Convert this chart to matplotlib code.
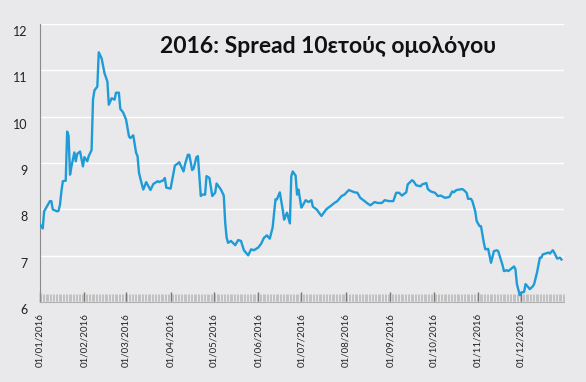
import matplotlib
matplotlib.use('Agg')
import matplotlib.pyplot as plt
import matplotlib.dates as mdates
from matplotlib.transforms import ScaledTranslation
import pandas as pd

plt.rcParams['font.family'] = ['Lato', 'Noto Sans', 'DejaVu Sans']

title = '2016: Spread 10ετούς ομολόγου'
start = '2016-01-01'

# days since 01/01/2016
days = [0, 2, 3, 7, 8, 9, 12, 13, 14, 15, 16, 18, 19, 20, 21, 22, 24, 25, 26, 28,
        30, 31, 33, 34, 36, 37, 38, 40, 41, 43, 45, 47, 48, 49, 50, 52, 53, 55, 56, 58,
        60, 62, 63, 65, 67, 68, 69, 71, 72, 74, 77, 79, 80, 82, 83, 86, 87, 88, 91, 93,
        94, 96, 97, 100, 101, 103, 104, 106, 107, 109, 110, 112, 113, 115, 116, 118, 120, 122, 123, 126,
        128, 129, 130, 131, 133, 135, 136, 138, 140, 142, 145, 147, 149, 152, 154, 156, 158, 160, 162, 164,
        165, 167, 169, 170, 171, 172, 174, 175, 176, 178, 179, 180, 182, 183, 185, 187, 189, 190, 193, 194,
        196, 199, 200, 203, 205, 207, 210, 212, 215, 219, 221, 223, 226, 228, 230, 233, 235, 238, 240, 243,
        246, 248, 250, 252, 255, 256, 259, 260, 262, 265, 266, 269, 270, 272, 275, 277, 279, 282, 285, 287,
        288, 290, 292, 294, 295, 297, 298, 300, 301, 303, 304, 306, 307, 309, 310, 312, 314, 316, 318, 319,
        322, 323, 325, 326, 328, 330, 331, 332, 334, 335, 337, 338, 340, 341, 343, 344, 346, 348, 349, 350,
        352, 354, 355, 357, 358, 360, 362, 363]
spread = [7.68, 7.59, 7.96, 8.18, 8.18, 8.00, 7.96, 7.97, 8.10, 8.39, 8.61, 8.62, 9.68, 9.59, 8.75, 8.93, 9.23, 9.04, 9.20, 9.25,
          8.93, 9.13, 9.04, 9.15, 9.28, 10.37, 10.57, 10.65, 11.39, 11.26, 10.94, 10.76, 10.26, 10.33, 10.40, 10.37, 10.52, 10.52, 10.17, 10.09,
          9.94, 9.58, 9.54, 9.60, 9.22, 9.15, 8.79, 8.54, 8.43, 8.59, 8.42, 8.55, 8.57, 8.61, 8.59, 8.63, 8.68, 8.47, 8.45, 8.79,
          8.95, 8.99, 9.02, 8.82, 8.97, 9.18, 9.18, 8.85, 8.88, 9.13, 9.15, 8.29, 8.32, 8.32, 8.72, 8.68, 8.29, 8.36, 8.56, 8.43,
          8.30, 7.71, 7.39, 7.28, 7.32, 7.26, 7.23, 7.34, 7.32, 7.12, 7.01, 7.14, 7.12, 7.18, 7.26, 7.39, 7.44, 7.37, 7.61, 8.22,
          8.22, 8.37, 8.00, 7.78, 7.86, 7.93, 7.70, 8.72, 8.82, 8.73, 8.32, 8.43, 8.04, 8.09, 8.20, 8.16, 8.20, 8.06, 7.99, 7.94,
          7.86, 7.99, 8.02, 8.09, 8.14, 8.18, 8.29, 8.32, 8.42, 8.37, 8.36, 8.25, 8.18, 8.13, 8.09, 8.16, 8.14, 8.14, 8.20, 8.18,
          8.18, 8.36, 8.36, 8.30, 8.37, 8.54, 8.63, 8.61, 8.52, 8.50, 8.54, 8.57, 8.44, 8.39, 8.36, 8.29, 8.30, 8.25, 8.27, 8.39,
          8.37, 8.42, 8.43, 8.44, 8.42, 8.36, 8.23, 8.23, 8.18, 7.96, 7.75, 7.64, 7.64, 7.28, 7.14, 7.15, 6.85, 7.10, 7.12, 7.10,
          6.80, 6.67, 6.69, 6.67, 6.72, 6.77, 6.71, 6.39, 6.15, 6.21, 6.22, 6.39, 6.32, 6.28, 6.34, 6.39, 6.64, 6.96, 6.96, 7.03,
          7.05, 7.07, 7.05, 7.12, 7.07, 6.94, 6.96, 6.92]
y_ticks = [6, 7, 8, 9, 10, 11, 12]

dates = pd.Timestamp(start) + pd.to_timedelta(days, unit='D')

bg = '#e9e9eb'
fig = plt.figure(figsize=(5.86, 3.82), dpi=100, facecolor=bg)
ax = fig.add_axes([0.068, 0.209, 0.895, 0.728], facecolor=bg)

ax.plot(dates, spread, color='#1f9bd7', lw=1.7, zorder=3)

ax.set_ylim(6, 12)
ax.set_yticks(y_ticks)
ax.set_xlim(pd.Timestamp('2016-01-01'), pd.Timestamp('2016-12-31'))
ax.grid(axis='y', color='white', lw=1.0)
ax.set_axisbelow(True)

for s in ['top', 'right']:
    ax.spines[s].set_visible(False)
ax.spines['left'].set_color('#8a8a8a')
ax.spines['bottom'].set_color('#b0b0b0')

ax.xaxis.set_major_locator(mdates.MonthLocator())
ax.xaxis.set_major_formatter(mdates.DateFormatter('%d/%m/%Y'))
ax.xaxis.set_minor_locator(mdates.DayLocator())
ax.tick_params(axis='x', which='major', direction='in', length=7, width=1.0,
               color='#777777', labelsize=7, labelcolor='#222222', pad=8, labelrotation=90)
ax.tick_params(axis='x', which='minor', direction='in', length=6, width=0.5, color='#b0b0b0')
ax.tick_params(axis='y', length=0, labelsize=9, labelcolor='#222222', pad=9)

off = ScaledTranslation(0, -5 / 72, fig.dpi_scale_trans)
for lab in ax.get_yticklabels():
    lab.set_transform(lab.get_transform() + off)

fig.text(0.56, 0.877, title, ha='center', va='center', fontsize=16.5,
         fontweight='bold', color='#111111')

plt.savefig('out.png', dpi=100, facecolor=bg)
